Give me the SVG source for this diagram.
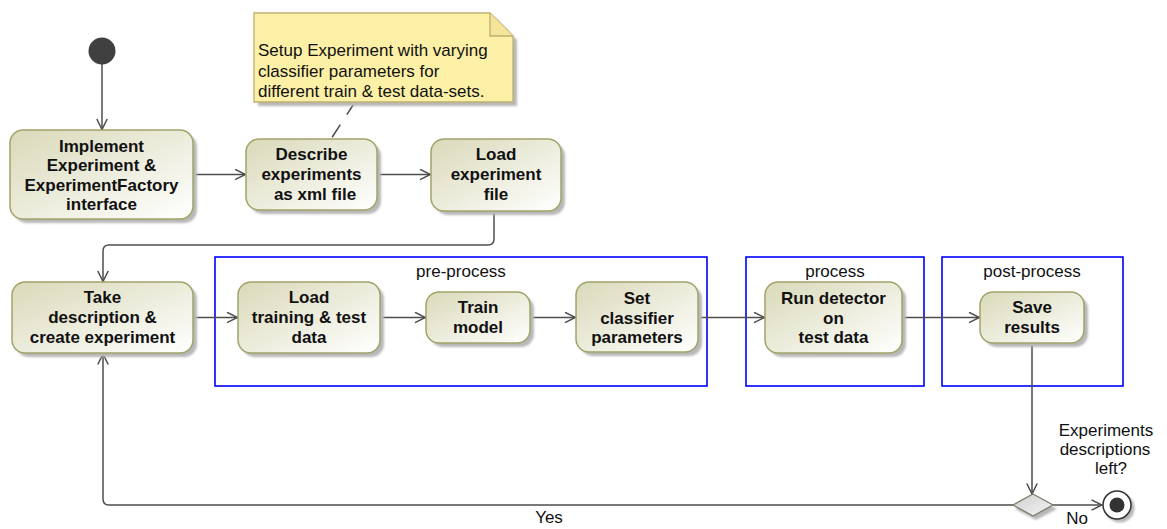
<svg xmlns="http://www.w3.org/2000/svg" width="1167" height="529" viewBox="0 0 1167 529">
  <style>
    .act { fill: url(#actFill); stroke: #a3a36a; stroke-width: 1.5; }
    .shadow { fill: #b8b8b8; }
    .lbl { font-family: "Liberation Sans", Arial, sans-serif; font-size: 17px; font-weight: bold; fill: #111; text-anchor: middle; }
    .txt { font-family: "Liberation Sans", Arial, sans-serif; font-size: 17px; fill: #111; }
    .mid { text-anchor: middle; }
    .part { fill: none; stroke: #0000ff; stroke-width: 1.6; }
    .flow { fill: none; stroke: #4d4d4d; stroke-width: 1.5; }
    .anchor { fill: none; stroke: #4d4d4d; stroke-width: 1.5; stroke-dasharray: 15 12; }
  </style>
  <defs>
    <linearGradient id="actFill" x1="0" y1="0" x2="1" y2="1">
      <stop offset="0" stop-color="#d9d9b9"/>
      <stop offset="1" stop-color="#ffffff"/>
    </linearGradient>
    <linearGradient id="decFill" x1="0" y1="0" x2="1" y2="1">
      <stop offset="0" stop-color="#cfcfcf"/>
      <stop offset="1" stop-color="#f4f4f4"/>
    </linearGradient>
    <filter id="soft" x="-10%" y="-10%" width="120%" height="120%">
      <feGaussianBlur stdDeviation="0.8"/>
    </filter>
    <marker id="open" viewBox="0 0 12 12" refX="11.5" refY="6" markerWidth="12" markerHeight="12" markerUnits="userSpaceOnUse" orient="auto">
      <path d="M1,0.8 L11.5,6 L1,11.2" fill="none" stroke="#4d4d4d" stroke-width="1.5"/>
    </marker>
  </defs>

  <rect width="1167" height="529" fill="#ffffff"/>

  <!-- partitions -->
  <g id="pre-process">
    <rect class="part" x="215" y="257" width="492" height="129"/>
    <text class="txt mid" x="461" y="277">pre-process</text>
  </g>
  <g id="process">
    <rect class="part" x="746" y="257" width="178" height="129"/>
    <text class="txt mid" x="835" y="277">process</text>
  </g>
  <g id="post-process">
    <rect class="part" x="942" y="257" width="181" height="129"/>
    <text class="txt mid" x="1032" y="277">post-process</text>
  </g>

  <!-- connectors -->
  <g id="connectors">
    <path class="flow" d="M102,64 V129.5" marker-end="url(#open)"/>
    <path class="flow" d="M193,174.5 H245.5" marker-end="url(#open)"/>
    <path class="flow" d="M377,174.5 H430.5" marker-end="url(#open)"/>
    <path class="flow" d="M494,211 V239 Q494,245 488,245 H109 Q103,245 103,251 V281.5" marker-end="url(#open)"/>
    <path class="flow" d="M193,317.5 H237.5" marker-end="url(#open)"/>
    <path class="flow" d="M380,317.5 H425.5" marker-end="url(#open)"/>
    <path class="flow" d="M530,317.5 H575.5" marker-end="url(#open)"/>
    <path class="flow" d="M698,317.5 H764.5" marker-end="url(#open)"/>
    <path class="flow" d="M902,317.5 H979.5" marker-end="url(#open)"/>
    <path class="flow" d="M1032,343 V494" marker-end="url(#open)"/>
    <path class="flow" d="M1053,505 H1102" marker-end="url(#open)"/>
    <path class="flow" d="M1013,505 H109 Q103,505 103,499 V354" marker-end="url(#open)"/>
    <path class="anchor" d="M355,102 L331,139"/>
    <text class="txt mid" x="549" y="523">Yes</text>
    <text class="txt mid" x="1077" y="524">No</text>
    <text class="txt mid" x="1106" y="436">Experiments</text>
    <text class="txt mid" x="1105" y="455">descriptions</text>
    <text class="txt mid" x="1111" y="474">left?</text>
  </g>

  <!-- note -->
  <g id="note">
    <path class="shadow" filter="url(#soft)" d="M258,17 H494 L517,40 V106 H258 Z"/>
    <path d="M254,13 H490 L513,36 V102 H254 Z" fill="#fcf0a6" stroke="#bdb070" stroke-width="1.3"/>
    <path d="M490,13 V36 H513" fill="#f3e49a" stroke="#bdb070" stroke-width="1.3"/>
    <text class="txt" x="258" y="56">Setup Experiment with varying</text>
    <text class="txt" x="258" y="76.5">classifier parameters for</text>
    <text class="txt" x="258" y="97">different train &amp; test data-sets.</text>
  </g>

  <!-- initial node -->
  <g id="start">
    <circle cx="102" cy="51" r="13.5" fill="#404040"/>
  </g>

  <g id="implement">
    <rect class="shadow" filter="url(#soft)" x="14" y="134" width="183" height="89" rx="13"/>
    <rect class="act" x="10" y="130" width="183" height="89" rx="13"/>
    <text class="lbl" x="101.5" y="151.5">Implement</text>
    <text class="lbl" x="101.5" y="171">Experiment &amp;</text>
    <text class="lbl" x="101.5" y="190.5">ExperimentFactory</text>
    <text class="lbl" x="101.5" y="210">interface</text>
  </g>

  <g id="describe">
    <rect class="shadow" filter="url(#soft)" x="250" y="143" width="131" height="71" rx="13"/>
    <rect class="act" x="246" y="139" width="131" height="71" rx="13"/>
    <text class="lbl" x="311.5" y="160">Describe</text>
    <text class="lbl" x="311.5" y="180">experiments</text>
    <text class="lbl" x="315" y="200">as xml file</text>
  </g>

  <g id="load-file">
    <rect class="shadow" filter="url(#soft)" x="435" y="143" width="130" height="72" rx="13"/>
    <rect class="act" x="431" y="139" width="130" height="72" rx="13"/>
    <text class="lbl" x="496" y="160">Load</text>
    <text class="lbl" x="496" y="180">experiment</text>
    <text class="lbl" x="496" y="200">file</text>
  </g>

  <g id="take">
    <rect class="shadow" filter="url(#soft)" x="16" y="286" width="181" height="71" rx="13"/>
    <rect class="act" x="12" y="282" width="181" height="71" rx="13"/>
    <text class="lbl" x="102.5" y="303">Take</text>
    <text class="lbl" x="102.5" y="323">description &amp;</text>
    <text class="lbl" x="102.5" y="343">create experiment</text>
  </g>

  <g id="load-data">
    <rect class="shadow" filter="url(#soft)" x="242" y="286" width="142" height="71" rx="13"/>
    <rect class="act" x="238" y="282" width="142" height="71" rx="13"/>
    <text class="lbl" x="309" y="303">Load</text>
    <text class="lbl" x="309" y="323">training &amp; test</text>
    <text class="lbl" x="309" y="343">data</text>
  </g>

  <g id="train">
    <rect class="shadow" filter="url(#soft)" x="430" y="296" width="104" height="51" rx="13"/>
    <rect class="act" x="426" y="292" width="104" height="51" rx="13"/>
    <text class="lbl" x="478" y="313">Train</text>
    <text class="lbl" x="478" y="333">model</text>
  </g>

  <g id="set-params">
    <rect class="shadow" filter="url(#soft)" x="580" y="286" width="122" height="70" rx="13"/>
    <rect class="act" x="576" y="282" width="122" height="70" rx="13"/>
    <text class="lbl" x="637" y="304">Set</text>
    <text class="lbl" x="637" y="324">classifier</text>
    <text class="lbl" x="637" y="343">parameters</text>
  </g>

  <g id="run-detector">
    <rect class="shadow" filter="url(#soft)" x="769" y="286" width="137" height="71" rx="13"/>
    <rect class="act" x="765" y="282" width="137" height="71" rx="13"/>
    <text class="lbl" x="833.5" y="304">Run detector</text>
    <text class="lbl" x="833.5" y="324">on</text>
    <text class="lbl" x="833.5" y="343">test data</text>
  </g>

  <g id="save">
    <rect class="shadow" filter="url(#soft)" x="984" y="296" width="104" height="51" rx="13"/>
    <rect class="act" x="980" y="292" width="104" height="51" rx="13"/>
    <text class="lbl" x="1032" y="313">Save</text>
    <text class="lbl" x="1032" y="333">results</text>
  </g>

  <g id="decision">
    <path class="shadow" filter="url(#soft)" d="M1036,498 L1057,509 L1036,520 L1015,509 Z"/>
    <path d="M1033,494 L1053,505 L1033,516 L1013,505 Z" fill="url(#decFill)" stroke="#7c7c6a" stroke-width="1.3"/>
  </g>

  <g id="final">
    <circle class="shadow" filter="url(#soft)" cx="1120" cy="508" r="14.5"/>
    <circle cx="1117" cy="505" r="14" fill="#ffffff" stroke="#333" stroke-width="1.5"/>
    <circle cx="1117" cy="505" r="7.5" fill="#333"/>
  </g>
</svg>
